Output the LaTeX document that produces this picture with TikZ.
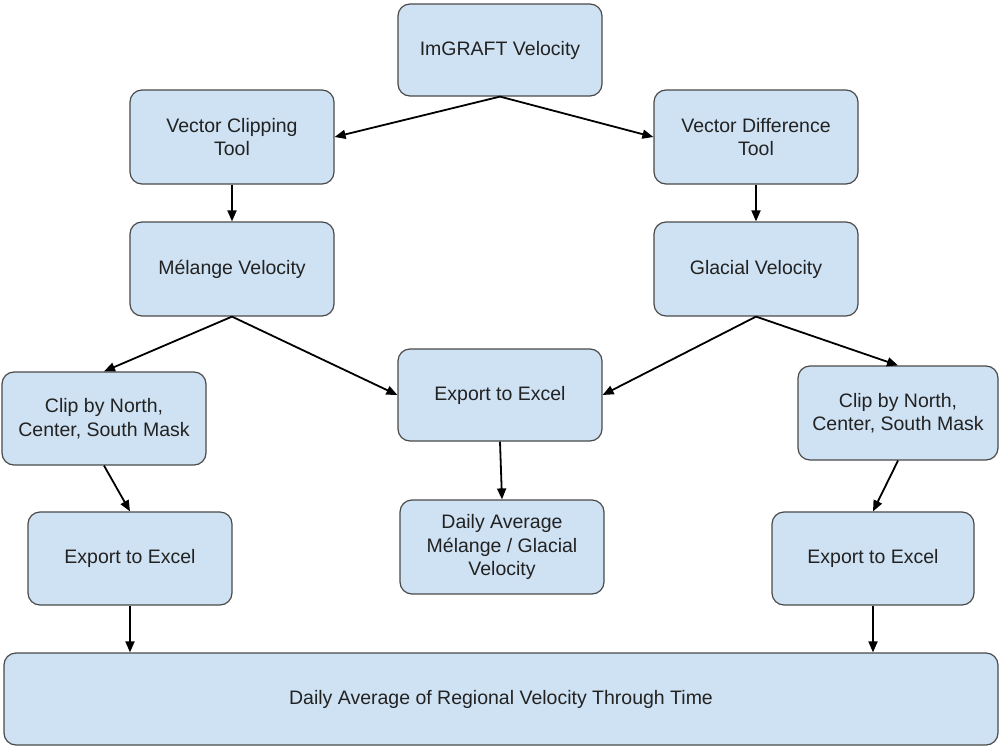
\documentclass[tikz,border=0pt]{standalone}
\usepackage{fontspec}
\setmainfont{Liberation Sans}
\usetikzlibrary{arrows.meta,calc}
\definecolor{boxfill}{HTML}{CFE2F3}
\definecolor{boxline}{HTML}{4A4A4A}
\definecolor{txt}{HTML}{222222}
\begin{document}
\begin{tikzpicture}[x=1pt,y=-1pt,
  box/.style={draw=boxline,line width=1.2pt,fill=boxfill,rounded corners=12pt,
    minimum width=204pt,minimum height=93pt,inner sep=0pt,align=center,
    text=txt,font=\fontsize{19.5}{23.5}\selectfont},
  conn/.style={draw=black,line width=1.8pt,-{Triangle[length=11pt,width=9pt]}}]
\useasboundingbox (0,0) rectangle (999,747);
\node[box,minimum height=92pt] (img) at (500,50) {ImGRAFT Velocity};
\node[box,minimum height=94pt] (vct) at (232,137) {Vector Clipping\\Tool};
\node[box,minimum height=94pt] (vdt) at (756,137) {Vector Difference\\Tool};
\node[box,minimum height=94pt] (mel) at (232,269) {Mélange Velocity};
\node[box,minimum height=94pt] (gla) at (756,269) {Glacial Velocity};
\node[box] (clipL) at (104,418.5) {Clip by North,\\Center, South Mask};
\node[box,minimum height=92pt] (expC) at (500,395) {Export to Excel};
\node[box,minimum width=200pt,minimum height=94pt] (clipR) at (898,413) {Clip by North,\\Center, South Mask};
\node[box] (expL) at (130,558.5) {Export to Excel};
\node[box,minimum height=94pt] (daily) at (502,547) {Daily Average\\Mélange / Glacial\\Velocity};
\node[box,minimum width=202pt] (expR) at (873,558.5) {Export to Excel};
\node[box,minimum width=994pt,minimum height=92pt] (bot) at (501,699) {Daily Average of Regional Velocity Through Time};
\draw[conn] (img.south) -- (vct.east);
\draw[conn] (img.south) -- (vdt.west);
\draw[conn] (vct.south) -- (mel.north);
\draw[conn] (vdt.south) -- (gla.north);
\draw[conn] (mel.south) -- (clipL.north);
\draw[conn] (mel.south) -- (expC.west);
\draw[conn] (gla.south) -- (expC.east);
\draw[conn] (gla.south) -- (clipR.north);
\draw[conn] (clipL.south) -- (expL.north);
\draw[conn] (clipR.south) -- (expR.north);
\draw[conn] (expC.south) -- (daily.north);
\draw[conn] (expL.south) -- (expL.south |- bot.north);
\draw[conn] (expR.south) -- (expR.south |- bot.north);
\end{tikzpicture}
\end{document}
